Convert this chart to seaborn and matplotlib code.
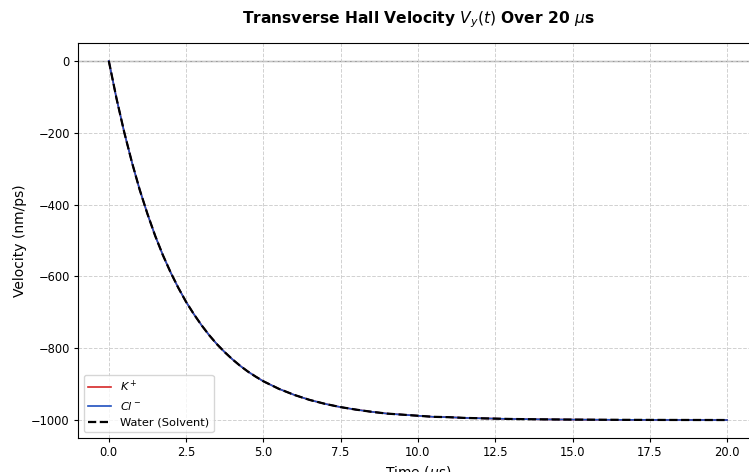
import matplotlib
matplotlib.use("Agg")
import matplotlib.pyplot as plt
import seaborn as sns
import pandas as pd

time_us = [0, 0.25, 0.5, 0.75, 1.0, 1.25, 1.5, 1.75, 2.0, 2.25, 2.5, 2.75, 3.0, 3.25,
           3.5, 3.75, 4.0, 4.25, 4.5, 4.75, 5.0, 5.5, 6.0, 6.5, 7.0, 7.5, 8.0, 8.5,
           9.0, 9.5, 10.0, 10.5, 11.0, 11.5, 12.0, 12.5, 13.0, 13.5, 14.0, 14.5,
           15.0, 16.0, 17.0, 18.0, 19.0, 20.0]
vel_k = [0, -105, -199, -283, -359, -426, -487, -541, -589, -632, -671, -705, -736, -764,
         -789, -811, -831, -849, -865, -879, -892, -913, -930, -944, -955, -964, -971, -977,
         -982, -985, -988, -991, -992, -994, -995, -996, -997, -997.5, -998, -998.4,
         -998.7, -999.2, -999.5, -999.7, -999.8, -999.9]
vel_cl = list(vel_k)
vel_water = list(vel_k)

plt.rcParams['font.family'] = ['DejaVu Sans']

fig = plt.figure(figsize=(7.49, 4.72), dpi=100)
ax = fig.add_axes([0.104, 0.072, 0.908, 0.837])

df = pd.DataFrame({"t": time_us, "k": vel_k, "cl": vel_cl, "w": vel_water})
ax.axhline(0, color="gray", linewidth=1.0, alpha=0.8, zorder=1)
sns.lineplot(data=df, x="t", y="k", ax=ax, color="#d62728", linewidth=1.2, label="$K^+$")
sns.lineplot(data=df, x="t", y="cl", ax=ax, color="#1f4fbf", linewidth=1.2, label="$Cl^-$")
sns.lineplot(data=df, x="t", y="w", ax=ax, color="black", linewidth=1.6, linestyle="--",
             label="Water (Solvent)")

ax.set_xlim(-1, 21)
ax.set_ylim(-1050, 50)
ax.set_xticks([0, 2.5, 5, 7.5, 10, 12.5, 15, 17.5, 20])
ax.set_yticks([0, -200, -400, -600, -800, -1000])
ax.grid(True, linestyle="--", color="#cccccc", linewidth=0.7, alpha=0.9)
ax.tick_params(labelsize=8.3, length=2.9, pad=2.9)
ax.set_xlabel("Time ($\\mu$s)", fontsize=10, labelpad=3.3)
ax.set_ylabel("Velocity (nm/ps)", fontsize=10, labelpad=3.3)
ax.set_title("Transverse Hall Velocity $V_y(t)$ Over 20 $\\mu$s", fontsize=11.2,
             fontweight="bold", pad=14)
ax.legend(loc="lower left", fontsize=8.2, framealpha=0.8)

fig.savefig("out.png", dpi=100)
